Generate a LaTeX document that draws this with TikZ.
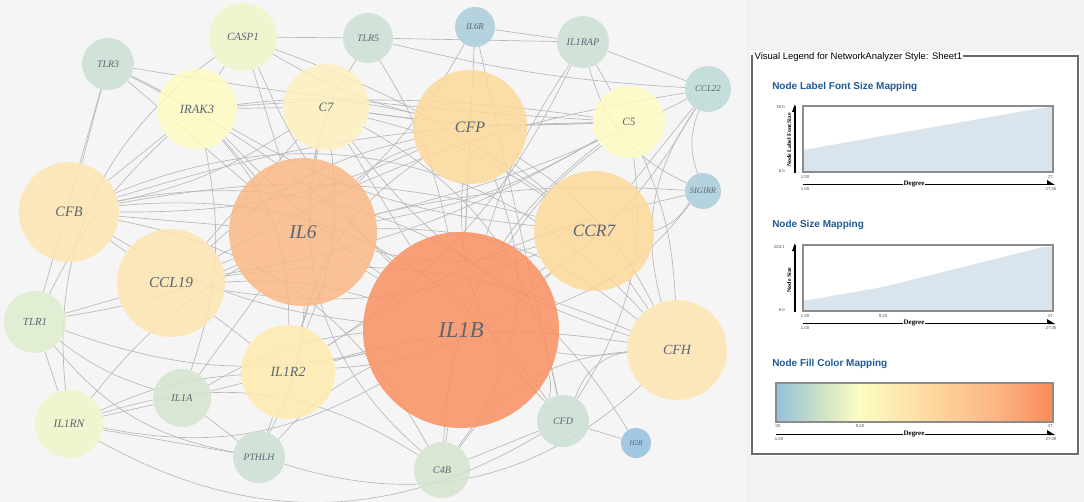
\documentclass[tikz,border=0pt]{standalone}
\usepackage{fontspec}
\setmainfont{Liberation Serif}
\newfontfamily\lsans{Liberation Sans}
\usetikzlibrary{arrows.meta}
\pgfdeclarelayer{bg}
\pgfdeclarelayer{edges}
\pgfsetlayers{bg,edges,main}
\definecolor{bgnet}{HTML}{F5F5F5}
\definecolor{bgright}{HTML}{F2F2F2}
\definecolor{edgec}{HTML}{B9B9B9}
\definecolor{labc}{HTML}{5B6670}
\definecolor{cIlb}{HTML}{FA9161}
\definecolor{cIls}{HTML}{FAB985}
\definecolor{cOr}{HTML}{FED89A}
\definecolor{cLo}{HTML}{FEE5B1}
\definecolor{cYo}{HTML}{FFEBAD}
\definecolor{cYc}{HTML}{FEF1BE}
\definecolor{cYe}{HTML}{FEFBC2}
\definecolor{cYg}{HTML}{F0F6CA}
\definecolor{cGl}{HTML}{DFEDCF}
\definecolor{cGm}{HTML}{D5E4CF}
\definecolor{cGg}{HTML}{CBE0D5}
\definecolor{cTe}{HTML}{BEDBD7}
\definecolor{cBl}{HTML}{AACEDB}
\definecolor{cBd}{HTML}{93BFDF}
\definecolor{headc}{HTML}{1F5A96}
\definecolor{chartc}{HTML}{D9E4EC}
\definecolor{legb}{HTML}{6A6A6A}
\definecolor{sA}{HTML}{93C1DB}
\definecolor{sB}{HTML}{C9DFC7}
\definecolor{sC}{HTML}{FDFDC3}
\definecolor{sD}{HTML}{FDD9A0}
\definecolor{sE}{HTML}{FCB483}
\definecolor{sF}{HTML}{F98A57}
\pgfdeclarehorizontalshading{degshade}{100bp}{color(0bp)=(sA); color(25bp)=(sA); color(32.5bp)=(sB); color(40bp)=(sC); color(52.5bp)=(sD); color(65bp)=(sE); color(75bp)=(sF); color(100bp)=(sF)}
\newcommand\fs[1]{\itshape\fontsize{#1}{#1}\selectfont}
\tikzset{
  gn/.style={circle, inner sep=0pt, minimum size=#1*1.5pt, fill opacity=0.85, text opacity=1, text=labc},
  ed/.style={draw=edgec, line width=0.5pt},
  axv/.style={font=\lsans\fontsize{3.2}{3.2}\selectfont, text=black!70, inner sep=0pt},
  axl/.style={font=\bfseries\fontsize{5.2}{5.2}\selectfont, inner sep=0.5pt},
  ayl/.style={font=\bfseries\fontsize{4.4}{4.4}\selectfont, inner sep=0pt, rotate=90},
  head/.style={anchor=west, text=headc, font=\lsans\bfseries\fontsize{7.5}{9}\selectfont, inner sep=0pt},
  cbox/.style={draw=black!45, line width=0.8pt},
}
\begin{document}
\begin{tikzpicture}[x=0.75pt,y=-0.75pt]
\useasboundingbox (0,0) rectangle (1084,502);
\begin{pgfonlayer}{bg}
\fill[bgnet] (0,0) rectangle (746,502);
\fill[bgright] (746,0) rectangle (1084,502);
\end{pgfonlayer}
% nodes
\node[gn=34, fill=cYg, font=\fs{8.3}] (casp1) at (243,37) {CASP1};
\node[gn=26, fill=cGg, font=\fs{7.4}] (tlr3) at (108,64) {TLR3};
\node[gn=40, fill=cYe, font=\fs{9.4}] (irak3) at (197,109) {IRAK3};
\node[gn=43, fill=cYc, font=\fs{9.6}] (c7) at (326,107) {C7};
\node[gn=25, fill=cGg, font=\fs{7.4}] (tlr5) at (368,38) {TLR5};
\node[gn=20, fill=cBl, font=\fs{6.7}] (il6r) at (475,27) {IL6R};
\node[gn=26, fill=cGg, font=\fs{7.6}] (il1rap) at (583,42) {IL1RAP};
\node[gn=23, fill=cTe, font=\fs{6.7}] (ccl22) at (708,89) {CCL22};
\node[gn=57, fill=cOr, font=\fs{12}] (cfp) at (470,127) {CFP};
\node[gn=36, fill=cYe, font=\fs{8.4}] (c5) at (629,122) {C5};
\node[gn=18, fill=cBl, font=\fs{6.3}] (sigirr) at (703,191) {SIGIRR};
\node[gn=60, fill=cOr, font=\fs{13}] (ccr7) at (594,231) {CCR7};
\node[gn=50, fill=cLo, font=\fs{10.8}] (cfb) at (69,212) {CFB};
\node[gn=74, fill=cIls, font=\fs{14.6}] (il6) at (303,232) {IL6};
\node[gn=98, fill=cIlb, font=\fs{17}] (il1b) at (461,330) {IL1B};
\node[gn=54, fill=cLo, font=\fs{11.4}] (ccl19) at (171,283) {CCL19};
\node[gn=31, fill=cGl, font=\fs{8.1}] (tlr1) at (35,322) {TLR1};
\node[gn=47, fill=cYo, font=\fs{10.5}] (il1r2) at (288,372) {IL1R2};
\node[gn=29, fill=cGm, font=\fs{7.9}] (il1a) at (182,398) {IL1A};
\node[gn=34, fill=cYg, font=\fs{8.6}] (il1rn) at (69,424) {IL1RN};
\node[gn=26, fill=cGg, font=\fs{7.3}] (pthlh) at (259,457) {PTHLH};
\node[gn=28, fill=cGm, font=\fs{7.6}] (c4b) at (442,470) {C4B};
\node[gn=26, fill=cGg, font=\fs{7.5}] (cfd) at (563,421) {CFD};
\node[gn=15, fill=cBd, font=\fs{5.3}] (h2b) at (636,443) {H2B};
\node[gn=50, fill=cLo, font=\fs{10.5}] (cfh) at (677,350) {CFH};
% edges
\begin{pgfonlayer}{edges}
\foreach \a/\b/\c in {
il1b/casp1/10, il1b/tlr3/-8, il1b/irak3/5, il1b/c7/0, il1b/tlr5/-10, il1b/il6r/0, il1b/il1rap/8, il1b/ccl22/-12,
il1b/cfp/0, il1b/c5/10, il1b/sigirr/-15, il1b/ccr7/0, il1b/cfb/12, il1b/il6/0, il1b/ccl19/-10, il1b/tlr1/15,
il1b/il1r2/0, il1b/il1a/-12, il1b/il1rn/20, il1b/pthlh/-10, il1b/c4b/0, il1b/cfd/15, il1b/cfh/-8,
il6/casp1/0, il6/tlr3/0, il6/irak3/0, il6/c7/0, il6/tlr5/10, il6/il6r/-8, il6/cfp/12, il6/c5/-10, il6/ccr7/-15,
il6/cfb/0, il6/ccl19/0, il6/tlr1/8, il6/il1r2/10, il6/il1a/0, il6/il1rn/-10, il6/pthlh/12, il6/cfh/20,
il6/ccl22/-6, il6/sigirr/8,
cfp/irak3/-10, cfp/c7/0, cfp/c5/0, cfp/ccr7/0, cfp/cfb/12, cfp/ccl19/-15, cfp/il1r2/-20, cfp/cfh/15,
cfp/cfd/-25, cfp/c4b/30, cfp/casp1/8,
ccr7/ccl19/15, ccr7/ccl22/0, ccr7/c7/-10, ccr7/cfb/-12, ccr7/il1r2/20, ccr7/cfh/0, ccr7/sigirr/-20,
ccr7/irak3/12, ccr7/casp1/-8,
c7/c5/-5, c7/cfb/10, c7/cfh/-18, c7/cfd/25, c7/c4b/-30, c7/ccl19/0, c7/il1r2/15, c7/irak3/0,
c5/cfb/-8, c5/cfh/10, c5/cfd/20, c5/c4b/-25, c5/ccl19/10, c5/irak3/-6, c5/il1rap/0,
cfb/cfh/35, cfb/cfd/30, cfb/c4b/25, cfb/ccl19/0, cfb/tlr3/0, cfb/irak3/0,
cfh/cfd/-30, cfh/c4b/-25, cfh/ccl19/-15, cfh/il1r2/-12,
ccl19/tlr1/0, ccl19/il1r2/0, ccl19/ccl22/10,
il1r2/il1rap/-15, il1r2/il1a/0, il1r2/il1rn/-10, il1r2/sigirr/10, il1r2/irak3/-20, il1r2/pthlh/0,
irak3/tlr3/0, irak3/casp1/0, irak3/tlr1/-10, irak3/il1a/15,
casp1/il1rn/-30, casp1/tlr5/0,
tlr1/il1rn/0, tlr1/il1a/-10, tlr1/tlr3/0,
il1a/il1rn/0, il1a/pthlh/0,
il1rap/il6r/0, il1rap/sigirr/-25, il1rap/ccl22/0,
cfd/h2b/0, cfd/c4b/0, tlr5/il1rap/0, tlr5/ccl22/-5, pthlh/il1rn/0, ccl22/sigirr/-20,
il6r/cfd/0, c4b/il1rn/-25, tlr3/c5/-3,
il1rn/cfd/-30, tlr1/pthlh/-20, ccl22/cfh/-25, pthlh/cfh/-30, h2b/cfb/-35}
  \draw[ed] (\a) to[bend left=\c] (\b);
\end{pgfonlayer}
% legend panel
\fill[white] (750,51) rectangle (1080,456);
\draw[draw=legb, line width=0.9pt] (752,56) rectangle (1078,454);
\node[fill=white, inner sep=1pt, anchor=west, font=\lsans\fontsize{7.1}{8}\selectfont] (ltitle) at (753,57) {Visual Legend for NetworkAnalyzer Style: Sheet1};
% chart 1
\node[head] (h1) at (772,87) {Node Label Font Size Mapping};
\fill[chartc] (803,172) -- (803,150) -- (1053,106) -- (1053,172) -- cycle;
\draw[cbox] (803,106) rectangle (1053,172);
\draw[line width=0.9pt] (795,173) -- (795,106);
\fill (792,112) -- (795,104) -- (796,112) -- cycle;
\node[ayl] (y1) at (789,140) {Node Label Font Size};
\node[axv, anchor=east] (v1a) at (785,107) {30.0};
\node[axv, anchor=east] (v1b) at (785,171) {6.0};
\node[axv] (x1a) at (805,177) {1.00};
\node[axv] (x1b) at (1051,177) {27.};
\node[axl] (d1) at (914,184) {Degree};
\draw[line width=0.6pt] (803,184) -- (d1.west);
\draw[line width=0.6pt] (d1.east) -- (1053,184);
\fill (1047,180) -- (1055,185) -- (1047,185) -- cycle;
\node[axv] (x1c) at (805,189) {1.00};
\node[axv] (x1d) at (1051,189) {27.00};
% chart 2
\node[head] (h2) at (772,225) {Node Size Mapping};
\fill[chartc] (803,311) -- (803,301) -- (883,287) -- (1043,247) -- (1053,247) -- (1053,311) -- cycle;
\draw[cbox] (803,245) rectangle (1053,311);
\draw[line width=0.9pt] (795,312) -- (795,245);
\fill (792,251) -- (795,243) -- (796,251) -- cycle;
\node[ayl] (y2) at (789,280) {Node Size};
\node[axv, anchor=east] (v2a) at (785,247) {203.1};
\node[axv, anchor=east] (v2b) at (785,310) {6.0};
\node[axv] (x2a) at (805,316) {1.00};
\node[axv] (x2m) at (883,316) {9.20};
\node[axv] (x2b) at (1051,316) {27.};
\node[axl] (d2) at (914,323) {Degree};
\draw[line width=0.6pt] (803,323) -- (d2.west);
\draw[line width=0.6pt] (d2.east) -- (1053,323);
\fill (1047,319) -- (1055,324) -- (1047,324) -- cycle;
\node[axv] (x2c) at (805,328) {1.00};
\node[axv] (x2d) at (1051,328) {27.00};
% chart 3
\node[head] (h3) at (772,364) {Node Fill Color Mapping};
\shade[shading=degshade] (776,383) rectangle (1053,422);
\draw[cbox] (776,383) rectangle (1053,422);
\node[axv] (x3a) at (778,426) {00};
\node[axv] (x3m) at (860,426) {9.20};
\node[axv] (x3b) at (1051,426) {27.};
\node[axl] (d3) at (914,434) {Degree};
\draw[line width=0.6pt] (776,434) -- (d3.west);
\draw[line width=0.6pt] (d3.east) -- (1053,434);
\fill (1047,430) -- (1055,435) -- (1047,435) -- cycle;
\node[axv] (x3c) at (779,439) {1.00};
\node[axv] (x3d) at (1051,439) {27.00};
\end{tikzpicture}
\end{document}
